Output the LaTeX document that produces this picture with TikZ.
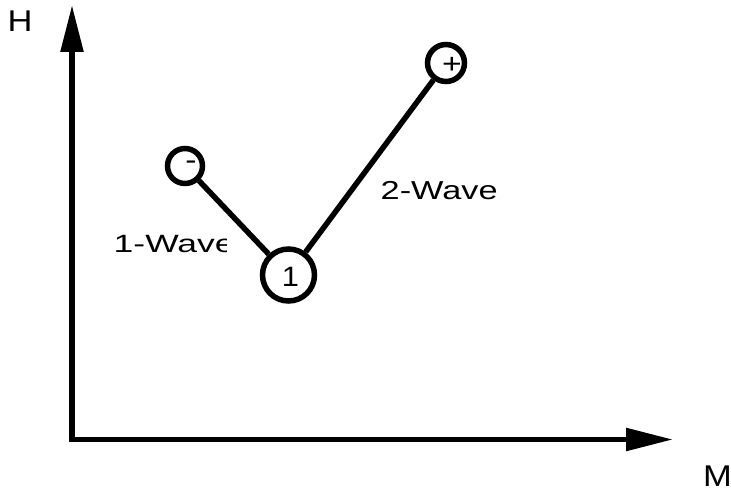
\documentclass[tikz,border=0pt]{standalone}
\usepackage{fontspec}
\setmainfont{Liberation Sans}
\usetikzlibrary{arrows.meta}
\tikzset{
  axis/.style={line width=5.5pt, line cap=rect, -{Triangle[length=47pt,width=22pt]}},
  conn/.style={line width=5.5pt},
  statebox/.style={circle, draw, line width=5.5pt, inner sep=0pt},
  axlabel/.style={inner sep=0pt, font=\fontsize{30}{36}\selectfont},
  wavelabel/.style={inner sep=0pt, anchor=base west, font=\fontsize{26}{31}\selectfont},
  inlabel/.style={font=\fontsize{28}{34}\selectfont, inner sep=0pt}
}
\begin{document}
\begin{tikzpicture}[x=1pt,y=-1pt]
\useasboundingbox (0,0) rectangle (731,494);
\coordinate (O) at (72,439.5);
\coordinate (Htop) at (72,5);
\coordinate (Mend) at (673,439.5);
\draw[axis] (O) -- (Htop);
\draw[axis] (O) -- (Mend);
\node[axlabel] (H) at (20,21) {\scalebox{1.15}[1]{H}};
\node[axlabel] (M) at (717.5,476.5) {\scalebox{1.15}[1]{M}};
\node[statebox, minimum size=35pt,
  label={[inlabel, xshift=6pt, yshift=1pt]center:\scalebox{1.2}[1]{-}}] (minus) at (185,166) {};
\node[statebox, minimum size=52pt,
  label={[inlabel, xshift=2pt, yshift=-2pt]center:\scalebox{1.1}[1]{1}}] (one) at (288.5,275) {};
\node[statebox, minimum size=37pt,
  label={[inlabel, xshift=6pt, yshift=-2pt]center:\scalebox{1.2}[1]{+}}] (plus) at (446,63) {};
\draw[conn] (minus) -- (one);
\draw[conn] (one) -- (plus);
\node[wavelabel] (w2) at (380.5,199.5) {\scalebox{1.32}[1]{2-Wave}};
\begin{scope}
\clip (100,220) rectangle (226,270);
\node[wavelabel, font=\fontsize{25}{30}\selectfont] (w1) at (113.5,252.5) {\scalebox{1.42}[1]{1-Wave}};
\end{scope}
\end{tikzpicture}
\end{document}
